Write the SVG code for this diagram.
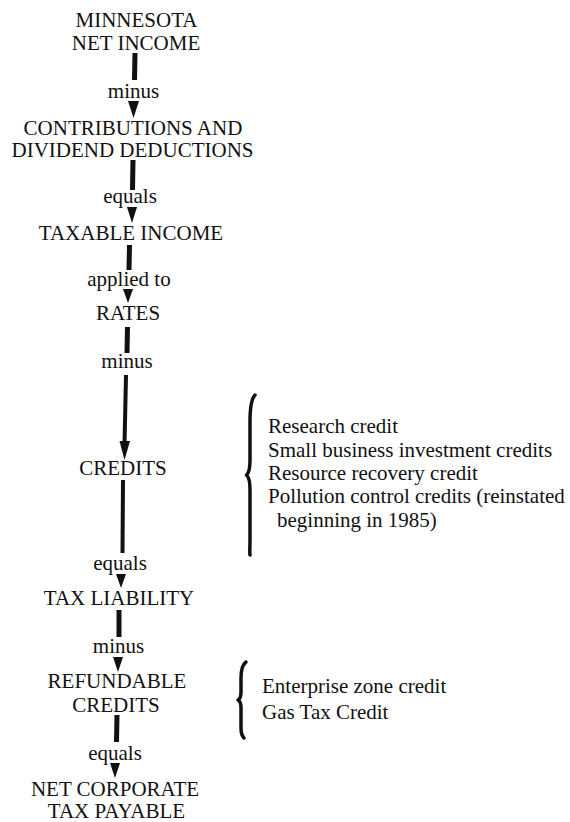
<svg xmlns="http://www.w3.org/2000/svg" width="570" height="822" viewBox="0 0 570 822" font-family="'Liberation Serif', 'DejaVu Serif', serif">
<style>
  text { font-family: 'Liberation Serif', 'DejaVu Serif', serif; font-size: 21px; fill: #111; }
  .n { text-anchor: middle; }
  .lbl { text-anchor: middle; }
  .bar { stroke: #111; stroke-width: 5; fill: none; }
  .thin { stroke: #111; stroke-width: 4; fill: none; }
  .head { fill: #111; stroke: none; }
  .brace { stroke: #111; stroke-width: 3.5; fill: none; stroke-linecap: round; stroke-linejoin: round; }
</style>
<rect width="570" height="822" fill="#fff"/>

<g id="connectors">
  <line class="bar" x1="135" y1="53" x2="134.5" y2="80"/>
  <text class="lbl" x="133.5" y="97.5">minus</text>
  <polygon class="head" points="128,101 139,101 133.5,118"/>
  <line class="bar" x1="133" y1="160" x2="132.5" y2="190"/>
  <text class="lbl" x="130" y="203">equals</text>
  <polygon class="head" points="127,207 137,207 132,223"/>
  <line class="bar" x1="129.5" y1="245" x2="129" y2="270"/>
  <text class="lbl" x="129" y="286">applied to</text>
  <polygon class="head" points="123,289 133,289 128,303"/>
  <line class="bar" x1="127.5" y1="327" x2="127" y2="353"/>
  <text class="lbl" x="127" y="368">minus</text>
  <line class="thin" x1="126" y1="375" x2="124.5" y2="445"/>
  <polygon class="head" points="119.5,441 130,441 124.5,460"/>
  <line class="thin" x1="123" y1="480" x2="122.5" y2="553"/>
  <text class="lbl" x="120" y="570">equals</text>
  <polygon class="head" points="116,574 126,574 121,588"/>
  <line class="bar" x1="119" y1="610" x2="119" y2="637"/>
  <text class="lbl" x="118.5" y="653">minus</text>
  <polygon class="head" points="113,657 123,657 118,672"/>
  <line class="bar" x1="117" y1="715" x2="116.5" y2="742"/>
  <text class="lbl" x="115" y="760">equals</text>
  <polygon class="head" points="110,763 120,763 115,778"/>
</g>

<g id="node-minnesota-net-income">
  <text class="n" x="136.5" y="26.5" textLength="122" lengthAdjust="spacingAndGlyphs">MINNESOTA</text>
  <text class="n" x="136" y="50">NET INCOME</text>
</g>
<g id="node-contributions">
  <text class="n" x="133" y="135">CONTRIBUTIONS AND</text>
  <text class="n" x="132.5" y="157">DIVIDEND DEDUCTIONS</text>
</g>
<g id="node-taxable-income">
  <text class="n" x="131" y="240">TAXABLE INCOME</text>
</g>
<g id="node-rates">
  <text class="n" x="128" y="320">RATES</text>
</g>
<g id="node-credits">
  <text class="n" x="123" y="475">CREDITS</text>
</g>
<g id="node-tax-liability">
  <text class="n" x="119" y="605">TAX LIABILITY</text>
</g>
<g id="node-refundable-credits">
  <text class="n" x="117" y="688">REFUNDABLE</text>
  <text class="n" x="116" y="712">CREDITS</text>
</g>
<g id="node-net-corporate-tax-payable">
  <text class="n" x="115" y="796">NET CORPORATE</text>
  <text class="n" x="116.5" y="818">TAX PAYABLE</text>
</g>

<g id="credits-list">
  <path class="brace" d="M255,395 C251,399 250,408 250,422 L250,460 C250,469 249,473 246.5,475 C249,477 250,481 250,490 L250,540 C250,547 249.5,552 250,555"/>
  <text x="268" y="433">Research credit</text>
  <text x="268" y="457">Small business investment credits</text>
  <text x="268" y="480">Resource recovery credit</text>
  <text x="268" y="503">Pollution control credits (reinstated</text>
  <text x="277" y="527">beginning in 1985)</text>
</g>

<g id="refundable-credits-list">
  <path class="brace" d="M246,662 C242,665 241,670 241,678 L241,692 C241,697 240,699 238,700 C240,701 241,703 241,708 L241,728 C241,733 242,736 244,738"/>
  <text x="262" y="693">Enterprise zone credit</text>
  <text x="262" y="719">Gas Tax Credit</text>
</g>
</svg>
